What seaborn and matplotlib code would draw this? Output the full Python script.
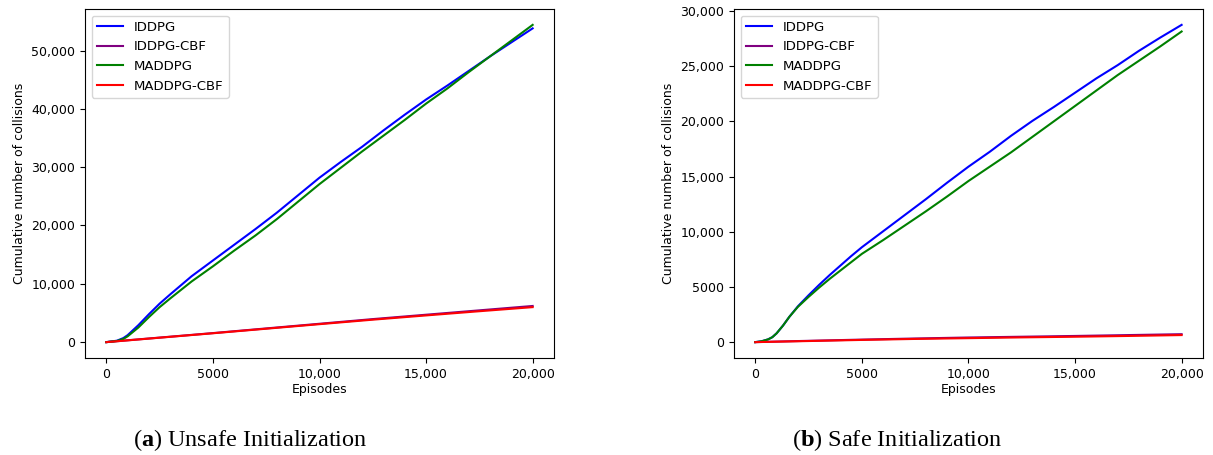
import matplotlib
matplotlib.use("Agg")
import matplotlib.pyplot as plt
from matplotlib.ticker import FuncFormatter
import seaborn as sns

ep_a = [0, 500, 800, 1000, 1500, 2000, 2500, 3000, 4000, 5000, 6000, 7000, 8000,
        9000, 10000, 11000, 12000, 13000, 14000, 15000, 16000, 17000, 18000,
        19000, 20000]
iddpg_a = [0, 250, 700, 1200, 2900, 4800, 6600, 8200, 11300, 14000, 16700, 19400,
           22200, 25200, 28200, 30900, 33500, 36300, 39000, 41600, 44000, 46500,
           49000, 51400, 53800]
maddpg_a = [0, 200, 550, 1000, 2500, 4300, 6000, 7500, 10400, 13000, 15700, 18300,
            21100, 24100, 27100, 29900, 32700, 35400, 38100, 40900, 43500, 46300,
            49000, 51700, 54400]

ep_cbf = [0, 1000, 2500, 5000, 7500, 10000, 12500, 15000, 17500, 20000]
iddpg_cbf_a = [0, 320, 780, 1550, 2350, 3150, 3950, 4700, 5450, 6200]
maddpg_cbf_a = [0, 300, 760, 1520, 2300, 3080, 3850, 4580, 5300, 6000]

ep_b = [0, 300, 600, 800, 1000, 1300, 1600, 2000, 2500, 3000, 3500, 4000, 4500,
        5000, 6000, 7000, 8000, 9000, 10000, 11000, 12000, 13000, 14000, 15000,
        16000, 17000, 18000, 19000, 20000]
iddpg_b = [0, 80, 250, 450, 800, 1500, 2300, 3250, 4250, 5200, 6100, 6950, 7800,
           8600, 10050, 11500, 12950, 14450, 15900, 17250, 18700, 20050, 21300,
           22600, 23900, 25100, 26400, 27600, 28750]
maddpg_b = [0, 80, 250, 450, 800, 1500, 2300, 3200, 4100, 4950, 5750, 6500, 7250,
            8000, 9250, 10550, 11850, 13200, 14600, 15900, 17200, 18600, 20000,
            21400, 22800, 24200, 25500, 26800, 28150]
iddpg_cbf_b = [0, 50, 120, 230, 330, 420, 490, 560, 640, 720]
maddpg_cbf_b = [0, 40, 100, 200, 290, 360, 430, 490, 560, 640]

names = ["IDDPG", "IDDPG-CBF", "MADDPG", "MADDPG-CBF"]
colors = {"IDDPG": "blue", "IDDPG-CBF": "purple", "MADDPG": "green", "MADDPG-CBF": "red"}

panels = [
    ([(ep_a, iddpg_a), (ep_cbf, iddpg_cbf_a), (ep_a, maddpg_a), (ep_cbf, maddpg_cbf_a)],
     r"($\mathbf{a}$) Unsafe Initialization", 0.0701, 250),
    ([(ep_b, iddpg_b), (ep_cbf, iddpg_cbf_b), (ep_b, maddpg_b), (ep_cbf, maddpg_cbf_b)],
     r"($\mathbf{b}$) Safe Initialization", 0.6051, 897),
]

plt.rcParams["mathtext.fontset"] = "custom"
plt.rcParams["mathtext.rm"] = "Liberation Serif"
plt.rcParams["mathtext.bf"] = "Liberation Serif:bold"


def fmt(v, pos):
    if abs(v) >= 10000:
        return f"{v:,.0f}"
    return f"{v:.0f}"


fig = plt.figure(figsize=(12.13, 4.55), dpi=100)

for series, caption, left, cx in panels:
    ax = fig.add_axes([left, 0.2132, 0.3866, 0.767])
    for name, (x, y) in zip(names, series):
        sns.lineplot(x=x, y=y, ax=ax, color=colors[name], label=name, linewidth=1.5)
    ax.set_xticks([0, 5000, 10000, 15000, 20000])
    ax.xaxis.set_major_formatter(FuncFormatter(fmt))
    ax.yaxis.set_major_formatter(FuncFormatter(fmt))
    ax.tick_params(labelsize=9)
    ax.set_xlabel("Episodes", fontsize=9, labelpad=2)
    ax.set_ylabel("Cumulative number of collisions", fontsize=9)
    ax.legend(loc="upper left", fontsize=9.5)
    fig.text(cx / 1213, 1 - 440 / 455, caption, ha="center", va="center",
             fontsize=17.5, family="Liberation Serif")

fig.savefig("out.png", dpi=100)
